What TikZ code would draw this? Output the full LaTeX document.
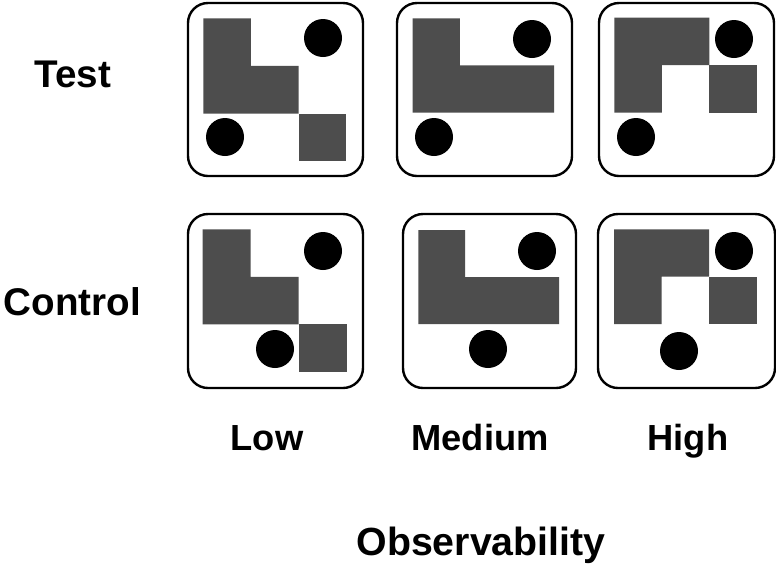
\documentclass[tikz,border=0pt]{standalone}
\usepackage{fontspec}
\setmainfont{Liberation Sans}
\definecolor{blockgrey}{HTML}{4D4D4D}
\tikzset{
  panelbox/.style={draw=black, line width=2.4pt, rounded corners=20pt, fill=white},
  block/.style={fill=blockgrey},
  dot/.style={fill=black},
  rowlabel/.style={font=\fontsize{38.6}{40}\selectfont\bfseries, anchor=base, inner sep=0pt},
  collabel/.style={font=\fontsize{36.3}{38}\selectfont\bfseries, anchor=base, inner sep=0pt},
  axislabel/.style={font=\fontsize{39.3}{41}\selectfont\bfseries, anchor=base, inner sep=0pt}
}
\newcommand{\shapeLow}{%
  \fill[block] (0,0) -- (1,0) -- (1,1) -- (2,1) -- (2,2) -- (0,2) -- cycle;
  \fill[block] (2,2) rectangle (3,3);}
\newcommand{\shapeMed}{%
  \fill[block] (0,0) -- (1,0) -- (1,1) -- (3,1) -- (3,2) -- (0,2) -- cycle;}
\newcommand{\shapeHigh}{%
  \fill[block] (0,0) -- (2,0) -- (2,1) -- (1,1) -- (1,2) -- (0,2) -- cycle;
  \fill[block] (2,1) rectangle (3,2);}
\begin{document}
\begin{tikzpicture}[x=1pt, y=-1pt]
\useasboundingbox (0,0) rectangle (776,566);
% panels, top row
\draw[panelbox] (188,3) rectangle (363,176);
\draw[panelbox] (397,3) rectangle (572,176);
\draw[panelbox] (599,3) rectangle (774,176);
% panels, bottom row
\draw[panelbox] (188,214) rectangle (363,388);
\draw[panelbox] (403,214) rectangle (576,388);
\draw[panelbox] (598,214) rectangle (775,388);
% block shapes
\begin{scope}[shift={(203.3,18.3)}, x=47.6pt, y=-47.6pt]\shapeLow\end{scope}
\begin{scope}[shift={(412.7,18.3)}, x=47.1pt, y=-47.1pt]\shapeMed\end{scope}
\begin{scope}[shift={(614.3,17.7)}, x=47.5pt, y=-47.5pt]\shapeHigh\end{scope}
\begin{scope}[shift={(202.7,229.3)}, x=48pt, y=-47.5pt]\shapeLow\end{scope}
\begin{scope}[shift={(418.3,230)}, x=46.9pt, y=-47pt]\shapeMed\end{scope}
\begin{scope}[shift={(614,229.3)}, x=47.6pt, y=-47.4pt]\shapeHigh\end{scope}
% dots
\fill[dot] (323,38) circle (19);
\fill[dot] (225,137) circle (19);
\fill[dot] (532,39) circle (19);
\fill[dot] (434,137) circle (19);
\fill[dot] (734,39) circle (19);
\fill[dot] (636,137) circle (19);
\fill[dot] (323,251) circle (19);
\fill[dot] (275,349) circle (19);
\fill[dot] (537,251) circle (19);
\fill[dot] (488,349) circle (19);
\fill[dot] (734,251) circle (19);
\fill[dot] (679,351) circle (19);
% labels
\node[rowlabel] (test) at (73,87) {Test};
\node[rowlabel] (control) at (72.5,315) {Control};
\node[collabel] (low) at (267,450) {Low};
\node[collabel] (medium) at (480,450) {Medium};
\node[collabel] (high) at (688,450) {High};
\node[axislabel] (obs) at (481,555) {Observability};
\end{tikzpicture}
\end{document}
